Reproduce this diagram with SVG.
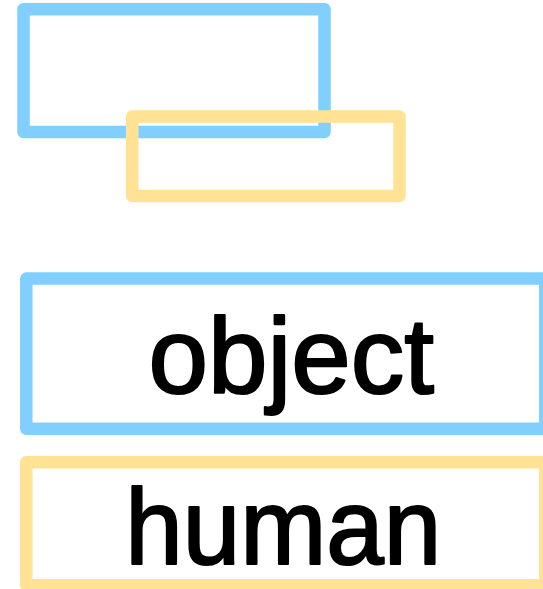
<svg xmlns="http://www.w3.org/2000/svg" width="543" height="589" viewBox="0 0 543 589">
  <style>
    .box { fill: none; stroke-width: 12.5; stroke-linejoin: round; }
    .blue { stroke: #80CFFF; }
    .yellow { stroke: #FFE293; }
    .label { font-family: "Liberation Sans", Arial, Helvetica, sans-serif; font-size: 107px; fill: #000; stroke: #000; stroke-width: 2.2; stroke-linejoin: round; text-anchor: middle; }
  </style>
  <rect x="0" y="0" width="543" height="589" fill="#FFFFFF"/>
  <!-- overlapping legend swatches -->
  <g id="swatch-object">
    <rect class="box blue" x="23.5" y="9.2" width="301" height="122.8"/>
  </g>
  <g id="swatch-human">
    <rect class="box yellow" x="132.2" y="116.5" width="267.3" height="79.5"/>
  </g>
  <!-- labelled boxes -->
  <g id="node-object">
    <rect class="box blue" x="26.3" y="278.6" width="519" height="150.2"/>
    <text class="label" x="291.3" y="393">object</text>
  </g>
  <g id="node-human">
    <rect class="box yellow" x="26.3" y="462.2" width="519" height="123"/>
    <text class="label" x="283.3" y="564" textLength="316" lengthAdjust="spacingAndGlyphs">human</text>
  </g>
  <g id="connectors"></g>
</svg>
